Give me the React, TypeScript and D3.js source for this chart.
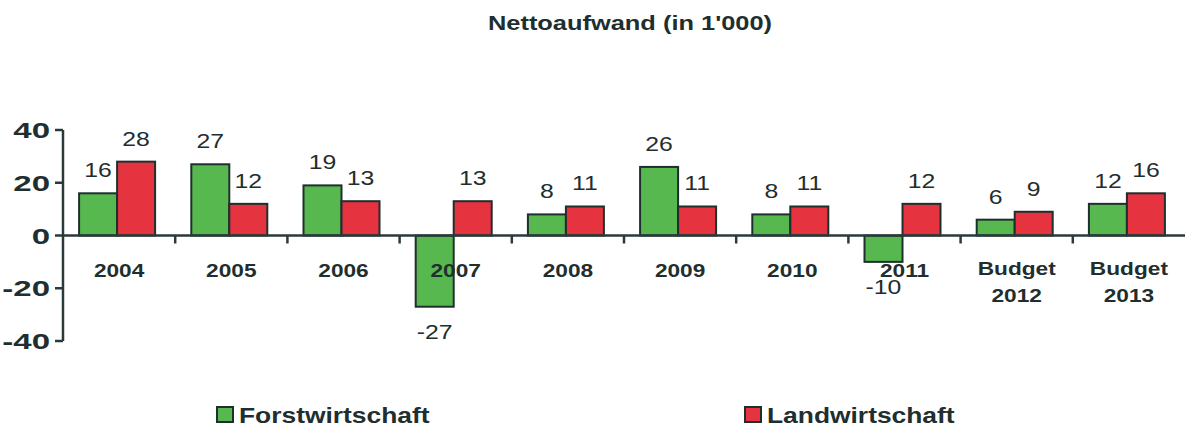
import React from "react";
import * as d3 from "d3";

const categories = ["2004", "2005", "2006", "2007", "2008", "2009", "2010", "2011", "Budget\n2012", "Budget\n2013"];
const forstwirtschaft = [16, 27, 19, -27, 8, 26, 8, -10, 6, 12];
const landwirtschaft = [28, 12, 13, 13, 11, 11, 11, 12, 9, 16];
const yTicks = [-40, -20, 0, 20, 40];
const seriesNames = ["Forstwirtschaft", "Landwirtschaft"];
const title = "Nettoaufwand (in 1'000)";

const W = 1185;
const H = 427;
const GREEN = "#58b850";
const RED = "#e5333f";
const INK = "#1f2e2e";
const FONT = "'Liberation Sans', Arial, sans-serif";

export default function App() {
  const x0 = 63;
  const x1 = 1185;
  const y = d3.scaleLinear().domain([-40, 40]).range([341, 130]);
  const x = d3.scaleBand<string>().domain(categories).range([x0, x1]).padding(0);
  const bw = 38;
  const zeroY = y(0);

  const T = (props: { x: number; y: number; sx: number; size: number; weight?: string; anchor?: string; children: React.ReactNode }) => (
    <text
      transform={`translate(${props.x},${props.y}) scale(${props.sx},1)`}
      textAnchor={props.anchor || "middle"}
      fontSize={props.size}
      fontWeight={props.weight || "normal"}
      fontFamily={FONT}
      fill={INK}
    >
      {props.children}
    </text>
  );

  return (
    <div style={{ position: "absolute", left: 0, top: 0 }}>
      <svg width={W} height={H} style={{ display: "block", background: "#fff" }}>
        <T x={630} y={30} sx={1.27} size={20} weight="bold">{title}</T>

        {/* bars */}
        {categories.map((c, i) => {
          const cx = (x(c) as number) + x.bandwidth() / 2 - 2;
          const vals = [forstwirtschaft[i], landwirtschaft[i]];
          return (
            <g key={c}>
              {vals.map((v, j) => {
                const bx = cx - bw + j * bw;
                const top = Math.min(y(v), zeroY);
                const h = Math.abs(y(v) - zeroY);
                return (
                  <rect key={j} x={bx} y={top} width={bw} height={h}
                    fill={j === 0 ? GREEN : RED} stroke={INK} strokeWidth={2} />
                );
              })}
            </g>
          );
        })}

        {/* x axis line */}
        <line x1={x0} x2={x1} y1={zeroY} y2={zeroY} stroke="#2a3a3a" strokeWidth={2.5} />
        {categories.slice(1).map((c) => (
          <line key={c} x1={x(c) as number} x2={x(c) as number} y1={zeroY} y2={zeroY + 8} stroke="#2a3a3a" strokeWidth={2.5} />
        ))}

        {/* y axis */}
        <line x1={x0} x2={x0} y1={y(40)} y2={y(-40)} stroke="#2a3a3a" strokeWidth={2.5} />
        {yTicks.map((t) => (
          <g key={t}>
            <line x1={x0 - 8} x2={x0} y1={y(t)} y2={y(t)} stroke="#2a3a3a" strokeWidth={2.5} />
            <T x={50} y={y(t) + 8} sx={1.5} size={22} weight="bold" anchor="end">{t}</T>
          </g>
        ))}

        {/* value labels */}
        {categories.map((c, i) => {
          const cx = (x(c) as number) + x.bandwidth() / 2 - 2;
          const vals = [forstwirtschaft[i], landwirtschaft[i]];
          return vals.map((v, j) => {
            const lx = cx - bw / 2 + j * bw;
            const ly = v >= 0 ? y(v) - 16 : y(v) + 32;
            return <T key={c + j} x={lx} y={ly} sx={1.18} size={21}>{v}</T>;
          });
        })}

        {/* category labels */}
        {categories.map((c) => {
          const cx = (x(c) as number) + x.bandwidth() / 2;
          const lines = c.split("\n");
          return lines.map((ln, k) => (
            <T key={c + k} x={cx} y={lines.length > 1 ? 275 + k * 27 : 277} sx={1.26} size={18} weight="bold">{ln}</T>
          ));
        })}

        {/* legend */}
        {seriesNames.map((n, i) => {
          const lx = i === 0 ? 217 : 745;
          return (
            <g key={n}>
              <rect x={lx} y={407} width={16} height={15} fill={i === 0 ? GREEN : RED} stroke={INK} strokeWidth={2} />
              <T x={lx + 22} y={423} sx={1.2} size={22} weight="bold" anchor="start">{n}</T>
            </g>
          );
        })}
      </svg>
    </div>
  );
}
